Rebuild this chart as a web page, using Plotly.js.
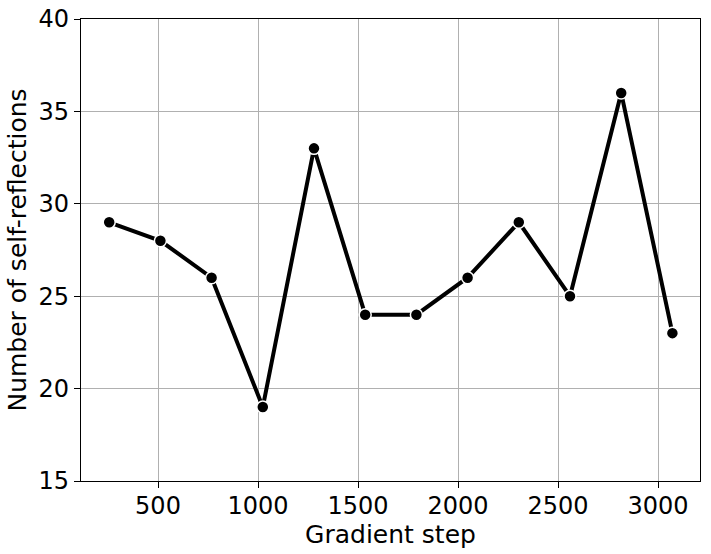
<!DOCTYPE html>
<html><head><meta charset="utf-8">
<script src="https://cdn.plot.ly/plotly-3.0.1.min.js"></script>
<style>html,body{margin:0;padding:0;background:#fff}#chart{width:711px;height:554px}</style>
</head><body><div id="chart"></div>
<script>
const steps = [256, 512, 768, 1024, 1280, 1536, 1792, 2048, 2304, 2560, 2816, 3072];
const reflections = [29, 28, 26, 19, 33, 24, 24, 26, 29, 25, 36, 23];
const xTicks = [500, 1000, 1500, 2000, 2500, 3000];
const yTicks = [15, 20, 25, 30, 35, 40];

const font = {family: 'DejaVu Sans, sans-serif', size: 24, color: '#000'};
const axisCommon = {
  showline: true, mirror: true, linecolor: '#000', linewidth: 1.2,
  ticks: 'outside', ticklen: 6, tickwidth: 1.2, tickcolor: '#000',
  showgrid: true, gridcolor: '#b0b0b0', gridwidth: 1, zeroline: false,
  tickfont: font
};
Plotly.newPlot('chart', [{
  x: steps, y: reflections, type: 'scatter', mode: 'lines+markers',
  line: {color: '#000', width: 4},
  marker: {color: '#000', size: 12, line: {color: '#fff', width: 1.5}}
}], {
  width: 711, height: 554,
  margin: {l: 81, r: 11, t: 19, b: 73},
  paper_bgcolor: '#fff', plot_bgcolor: '#fff',
  showlegend: false,
  xaxis: Object.assign({}, axisCommon, {
    range: [115, 3210], tickvals: xTicks, ticklabelstandoff: -3,
    title: {text: 'Gradient step', font: Object.assign({}, font, {size: 25}), standoff: 2}
  }),
  yaxis: Object.assign({}, axisCommon, {
    range: [15, 40], tickvals: yTicks,
    title: {text: 'Number of self-reflections', font: Object.assign({}, font, {size: 25}), standoff: 4}
  })
}, {displayModeBar: false});
</script></body></html>
